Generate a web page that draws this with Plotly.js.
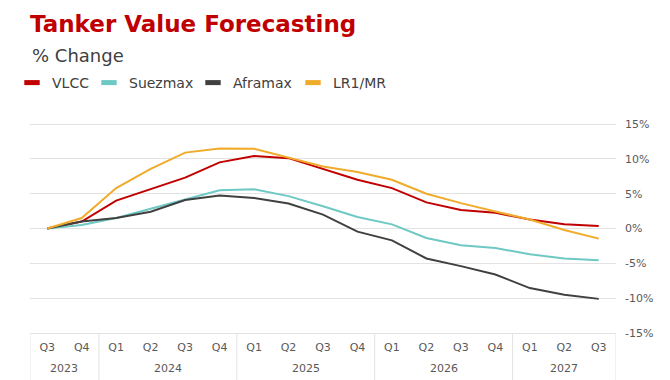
<!DOCTYPE html>
<html>
<head>
<meta charset="utf-8">
<script src="https://cdn.plot.ly/plotly-3.0.1.min.js"></script>
<style>
  html, body { margin: 0; padding: 0; background: #ffffff; }
  #chart { width: 670px; height: 380px; }
</style>
</head>
<body>
<div id="chart"></div>
<script>
var years = ['2023','2023','2024','2024','2024','2024','2025','2025','2025','2025','2026','2026','2026','2026','2027','2027','2027'];
var quarters = ['Q3','Q4','Q1','Q2','Q3','Q4','Q1','Q2','Q3','Q4','Q1','Q2','Q3','Q4','Q1','Q2','Q3'];

var vlcc     = [0, 1.0, 4.0, 5.6, 7.3, 9.5, 10.4, 10.1, 8.6, 7.0, 5.8, 3.75, 2.65, 2.25, 1.3, 0.6, 0.35];
var suezmax  = [0, 0.5, 1.5, 2.8, 4.1, 5.5, 5.65, 4.65, 3.2, 1.65, 0.6, -1.35, -2.4, -2.8, -3.7, -4.3, -4.55];
var aframax  = [0, 1.0, 1.5, 2.4, 4.1, 4.75, 4.4, 3.6, 2.0, -0.45, -1.7, -4.3, -5.4, -6.6, -8.55, -9.5, -10.1];
var lr1mr    = [0, 1.5, 5.8, 8.55, 10.9, 11.5, 11.45, 10.2, 8.9, 8.1, 7.0, 5.0, 3.65, 2.45, 1.3, -0.2, -1.45];

var seriesNames = ['VLCC', 'Suezmax', 'Aframax', 'LR1/MR'];
var seriesData = [vlcc, suezmax, aframax, lr1mr];
var seriesColors = ['#c00000', '#6ec8c4', '#404040', '#f0ab2b'];
var yTicks = [-15, -10, -5, 0, 5, 10, 15];

var FONT = 'DejaVu Sans, sans-serif';
var GRID = '#e3e3e3';

// unique category per period, labelled with its quarter
var cats = years.map(function (y, i) { return y + ' ' + quarters[i]; });

var legendIds = ['legend', 'legend2', 'legend3', 'legend4'];
var legendTextX = [51, 128, 232, 332];

var traces = [];
seriesData.forEach(function (d, i) {
  traces.push({
    type: 'scatter', mode: 'lines',
    x: cats, y: d,
    name: seriesNames[i],
    line: { color: seriesColors[i], width: 2 },
    showlegend: false,
    hoverinfo: 'skip'
  });
});
// legend-only entries (rectangular swatches), one legend box each
seriesData.forEach(function (d, i) {
  traces.push({
    type: 'scatter', mode: 'markers',
    x: [null], y: [null],
    name: seriesNames[i],
    legend: legendIds[i],
    marker: { symbol: 'line-ew-open', size: 11, color: seriesColors[i], line: { color: seriesColors[i], width: 5 } },
    showlegend: true
  });
});

// year groups: centre labels and boundary dividers
var groups = [];
years.forEach(function (y, i) {
  if (!groups.length || groups[groups.length - 1].year !== y) groups.push({ year: y, first: i, last: i });
  else groups[groups.length - 1].last = i;
});
var plotH = 380 - 123 - 47;
var annotations = [{
  text: '% Change', xref: 'paper', yref: 'paper',
  x: 0, xanchor: 'left', y: (333 - 55) / plotH, yanchor: 'middle',
  showarrow: false,
  font: { family: FONT, size: 18, color: '#404040' }
}];
var shapes = [];
groups.forEach(function (g, k) {
  annotations.push({
    text: g.year, xref: 'x', yref: 'paper',
    x: (g.first + g.last) / 2, xanchor: 'center',
    y: -(368 - 333) / plotH, yanchor: 'middle',
    showarrow: false,
    font: { family: FONT, size: 11, color: '#595959' }
  });
  shapes.push({
    type: 'line', xref: 'x', yref: 'paper',
    x0: g.first - 0.5, x1: g.first - 0.5, y0: 0, y1: -47 / plotH,
    line: { color: GRID, width: 1 }
  });
  if (k === groups.length - 1) {
    shapes.push({
      type: 'line', xref: 'x', yref: 'paper',
      x0: g.last + 0.5, x1: g.last + 0.5, y0: 0, y1: -47 / plotH,
      line: { color: GRID, width: 1 }
    });
  }
});

var layout = {
  width: 670, height: 380,
  margin: { l: 30, r: 54, t: 123, b: 47 },
  paper_bgcolor: '#ffffff', plot_bgcolor: '#ffffff',
  font: { family: FONT, color: '#595959', size: 11 },
  title: {
    text: 'Tanker Value Forecasting',
    font: { family: FONT, size: 23, color: '#c00000', weight: 700 },
    x: 30 / 670, xref: 'container', xanchor: 'left',
    y: 1 - 24 / 380, yref: 'container', yanchor: 'middle'
  },
  showlegend: true,
  annotations: annotations,
  shapes: shapes,
  xaxis: {
    type: 'category',
    categoryorder: 'array', categoryarray: cats,
    tickvals: cats, ticktext: quarters,
    range: [-0.5, cats.length - 0.5],
    showgrid: false, zeroline: false,
    showline: true, linecolor: GRID, linewidth: 1,
    ticks: '', ticklabelstandoff: 4,
    tickfont: { family: FONT, size: 11, color: '#595959' }
  },
  yaxis: {
    side: 'right',
    range: [-15, 15.15],
    tickvals: yTicks,
    ticktext: yTicks.map(function (v) { return v + '%'; }),
    showgrid: true, gridcolor: GRID, gridwidth: 1,
    zeroline: false, showline: false, ticks: '',
    ticklabelstandoff: 8,
    tickfont: { family: FONT, size: 11, color: '#595959' }
  }
};
legendIds.forEach(function (id, i) {
  layout[id] = {
    orientation: 'h',
    x: (legendTextX[i] - 39) / 670, xref: 'container', xanchor: 'left',
    y: 1 - 83 / 380, yref: 'container', yanchor: 'middle',
    font: { family: FONT, size: 14, color: '#404040' },
    bgcolor: 'rgba(0,0,0,0)'
  };
});

Plotly.newPlot('chart', traces, layout, { displayModeBar: false, staticPlot: true });
</script>
</body>
</html>
